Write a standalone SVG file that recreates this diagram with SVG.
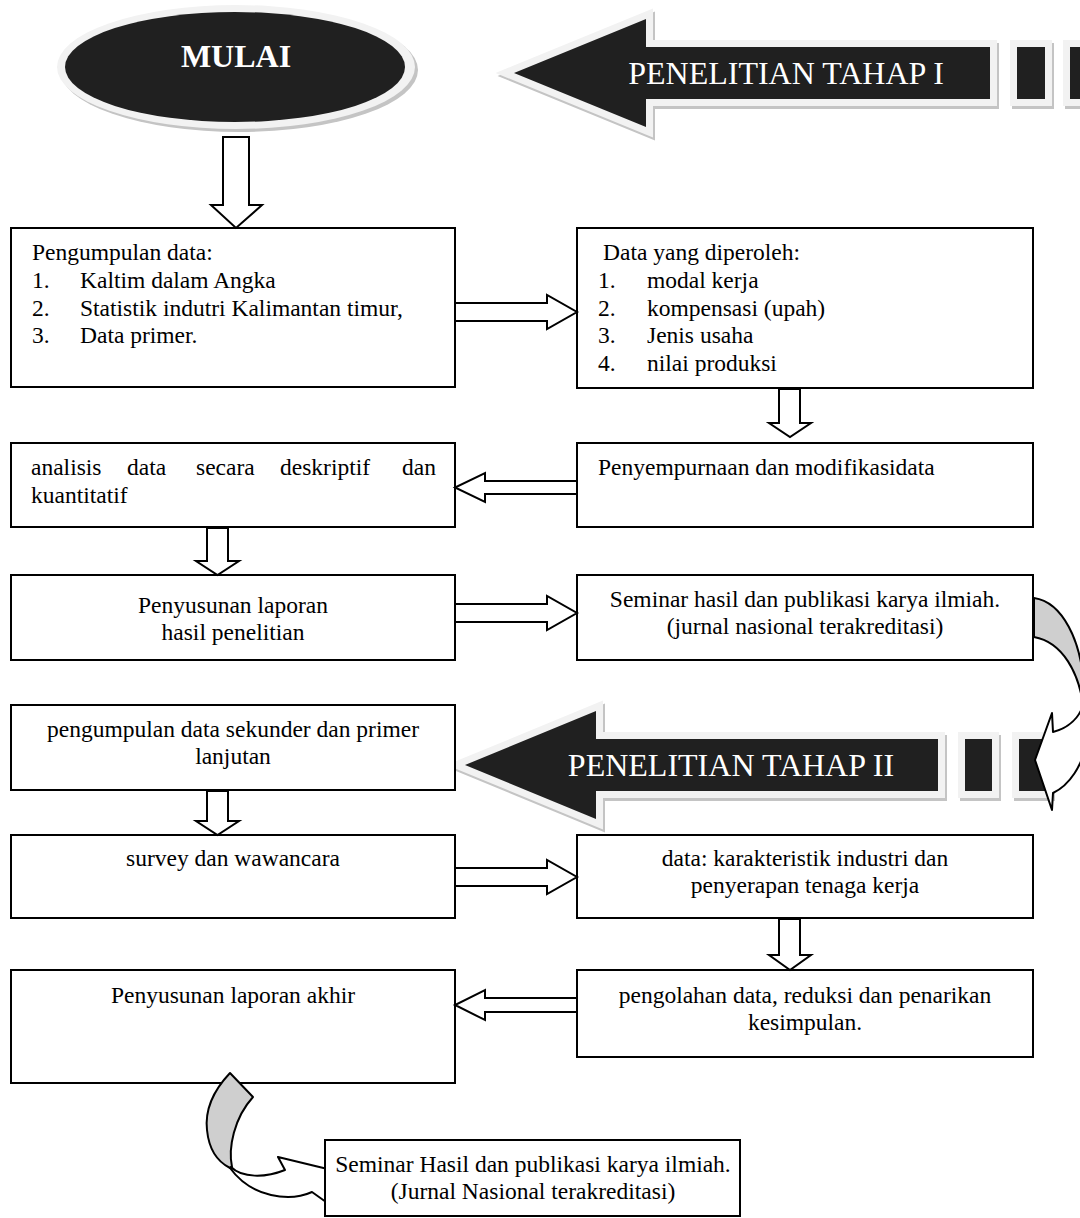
<svg xmlns="http://www.w3.org/2000/svg" width="1080" height="1218" viewBox="0 0 1080 1218">
<style>
text{font-family:"Liberation Serif","Times New Roman",serif;font-size:23.5px;fill:#000}
.c{text-anchor:middle}
.box{fill:#fff;stroke:#000;stroke-width:2}
.blk{fill:#fff;stroke:#000;stroke-width:2;stroke-linejoin:miter}
.rim{fill:#f2f2f2;stroke:#f2f2f2;stroke-width:14}
.shd{fill:#c4c4c4;stroke:#c4c4c4;stroke-width:14}
.dark{fill:#202020}
.ban{font-size:32px;fill:#fff}
.curv{stroke:#000;stroke-width:2;stroke-linejoin:round}
</style>
<rect width="1080" height="1218" fill="#fff"/>

<g id="mulai">
<ellipse cx="239" cy="70" rx="179" ry="62" fill="#c4c4c4"/>
<ellipse cx="236" cy="67" rx="179" ry="62" fill="#f2f2f2"/>
<ellipse cx="235" cy="67" rx="170" ry="55" class="dark"/>
<text x="236" y="67" class="c" style="font-size:32px;font-weight:bold;fill:#fff">MULAI</text>
</g>

<g id="banner1">
<path class="shd" transform="translate(2,3)" d="M514,73 L646,19 L646,47 L990,47 L990,99 L646,99 L646,127 Z"/>
<rect class="shd" x="1019" y="50" width="28" height="52"/>
<rect class="shd" x="1072" y="50" width="28" height="52"/>
<path class="rim" d="M514,73 L646,19 L646,47 L990,47 L990,99 L646,99 L646,127 Z"/>
<rect class="rim" x="1017" y="47" width="28" height="52"/>
<rect class="rim" x="1070" y="47" width="28" height="52"/>
<path class="dark" d="M514,73 L646,19 L646,47 L990,47 L990,99 L646,99 L646,127 Z"/>
<rect class="dark" x="1017" y="47" width="28" height="52"/>
<rect class="dark" x="1070" y="47" width="28" height="52"/>
<text x="786" y="84" class="c ban">PENELITIAN TAHAP I</text>
</g>

<g id="banner2">
<path class="shd" transform="translate(2,3)" d="M465,765 L596,711 L596,739 L938,739 L938,791 L596,791 L596,819 Z"/>
<rect class="shd" x="967" y="742" width="27" height="52"/>
<rect class="shd" x="1021" y="742" width="27" height="52"/>
<path class="rim" d="M465,765 L596,711 L596,739 L938,739 L938,791 L596,791 L596,819 Z"/>
<rect class="rim" x="965" y="739" width="27" height="52"/>
<rect class="rim" x="1019" y="739" width="27" height="52"/>
<path class="dark" d="M465,765 L596,711 L596,739 L938,739 L938,791 L596,791 L596,819 Z"/>
<rect class="dark" x="965" y="739" width="27" height="52"/>
<rect class="dark" x="1019" y="739" width="27" height="52"/>
<text x="731" y="776" class="c ban">PENELITIAN TAHAP II</text>
</g>

<g id="n1">
<rect class="box" x="11" y="228" width="444" height="159"/>
<text x="32" y="260">Pengumpulan data:</text>
<text x="32" y="288">1.</text><text x="80" y="288">Kaltim dalam Angka</text>
<text x="32" y="316">2.</text><text x="80" y="316">Statistik indutri Kalimantan timur,</text>
<text x="32" y="343">3.</text><text x="80" y="343">Data primer.</text>
</g>

<g id="n2">
<rect class="box" x="577" y="228" width="456" height="160"/>
<text x="603" y="260">Data yang diperoleh:</text>
<text x="598" y="288">1.</text><text x="647" y="288">modal kerja</text>
<text x="598" y="316">2.</text><text x="647" y="316">kompensasi (upah)</text>
<text x="598" y="343">3.</text><text x="647" y="343">Jenis usaha</text>
<text x="598" y="371">4.</text><text x="647" y="371">nilai produksi</text>
</g>

<g id="n3">
<rect class="box" x="577" y="443" width="456" height="84"/>
<text x="598" y="475">Penyempurnaan dan modifikasidata</text>
</g>

<g id="n4">
<rect class="box" x="11" y="443" width="444" height="84"/>
<text x="31" y="475">analisis</text><text x="127" y="475">data</text><text x="196" y="475">secara</text><text x="280" y="475">deskriptif</text><text x="402" y="475">dan</text>
<text x="31" y="503">kuantitatif</text>
</g>

<g id="n5">
<rect class="box" x="11" y="575" width="444" height="85"/>
<text x="233" y="613" class="c">Penyusunan laporan</text>
<text x="233" y="640" class="c">hasil penelitian</text>
</g>

<g id="n6">
<rect class="box" x="577" y="575" width="456" height="85"/>
<text x="805" y="607" class="c">Seminar hasil dan publikasi karya ilmiah.</text>
<text x="805" y="634" class="c">(jurnal nasional terakreditasi)</text>
</g>

<g id="n7">
<rect class="box" x="11" y="705" width="444" height="85"/>
<text x="233" y="737" class="c">pengumpulan data sekunder dan primer</text>
<text x="233" y="764" class="c">lanjutan</text>
</g>

<g id="n8">
<rect class="box" x="11" y="835" width="444" height="83"/>
<text x="233" y="866" class="c">survey dan wawancara</text>
</g>

<g id="n9">
<rect class="box" x="577" y="835" width="456" height="83"/>
<text x="805" y="866" class="c">data: karakteristik industri dan</text>
<text x="805" y="893" class="c">penyerapan tenaga kerja</text>
</g>

<g id="n10">
<rect class="box" x="577" y="970" width="456" height="87"/>
<text x="805" y="1003" class="c">pengolahan data, reduksi dan penarikan</text>
<text x="805" y="1030" class="c">kesimpulan.</text>
</g>

<g id="n11">
<rect class="box" x="11" y="970" width="444" height="113"/>
<text x="233" y="1003" class="c">Penyusunan laporan akhir</text>
</g>

<g id="connectors">
<polygon class="blk" points="223,137 249,137 249,205 262,205 236,228 211,205 223,205"/>
<polygon class="blk" points="455,303 547,303 547,295 577,312 547,329 547,321 455,321"/>
<polygon class="blk" points="779,389 800,389 800,423 811,423 790,437 769,423 779,423"/>
<polygon class="blk" points="577,481 485,481 485,473 455,487.5 485,502 485,494 577,494"/>
<polygon class="blk" points="207,528 228,528 228,561 239,561 217.5,575 196,561 207,561"/>
<polygon class="blk" points="455,604 547,604 547,596 577,613 547,630 547,622 455,622"/>
<polygon class="blk" points="207,791 228,791 228,821 239,821 217.5,835 196,821 207,821"/>
<polygon class="blk" points="455,868 547,868 547,860 577,877 547,894 547,886 455,886"/>
<polygon class="blk" points="779,919 800,919 800,955 811,955 790,970 769,955 779,955"/>
<polygon class="blk" points="577,998 485,998 485,990 455,1005 485,1020 485,1012 577,1012"/>
<g id="curve1">
<path class="curv" fill="#cfcfcf" d="M1034,598 C1062,602 1082,640 1084,690 L1084,712 C1080,672 1062,642 1034,637 Z"/>
<path class="curv" fill="#fff" d="M1084,702 C1080,718 1068,728 1053,732 L1052,713 L1035,760 L1052,810 L1053,793 C1070,785 1082,765 1086,745 Z"/>
</g>
<g id="curve2">
<path class="curv" fill="#cfcfcf" d="M230,1073 C212,1092 205,1112 207,1130 C209,1150 218,1162 230,1168 L232,1167 C228,1148 234,1118 253,1097 Z"/>
<path class="curv" fill="#fff" d="M231,1167 C242,1178 265,1178 285,1170 L278,1157 L340,1172 L340,1212 L312,1192 C290,1202 252,1198 230,1168 Z"/>
</g>
</g>

<g id="n12">
<rect class="box" x="325" y="1140" width="415" height="76"/>
<text x="533" y="1172" class="c">Seminar Hasil dan publikasi karya ilmiah.</text>
<text x="533" y="1199" class="c">(Jurnal Nasional terakreditasi)</text>
</g>
</svg>
